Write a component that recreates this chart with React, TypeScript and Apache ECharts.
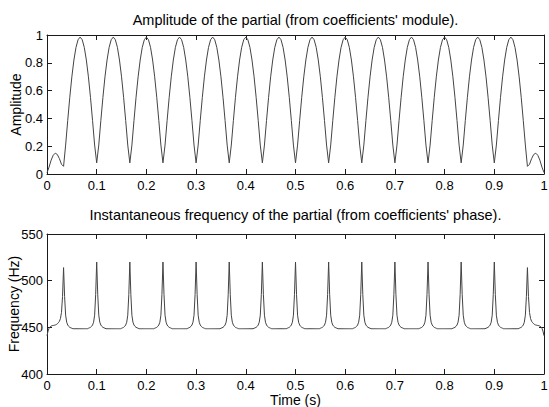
import React, { useEffect, useRef } from "react";
import * as echarts from "echarts";

// Time step of each series (seconds per sample)
const ampStep = 1 / 240;
const freqStep = 1 / 480;

const xTicks = ["0", "0.1", "0.2", "0.3", "0.4", "0.5", "0.6", "0.7", "0.8", "0.9", "1"];

const topTitle = "Amplitude of the partial (from coefficients' module).";
const bottomTitle = "Instantaneous frequency of the partial (from coefficients' phase).";

// Amplitude, one sample every 1/240 s
const amplitude = [
  0.01, 0.05, 0.1, 0.135, 0.15, 0.14, 0.11, 0.07, 0.055,
  0.208, 0.384, 0.551, 0.699, 0.82, 0.911, 0.966, 0.985, 0.966, 0.911, 0.82, 0.699, 0.551, 0.384, 0.208, 0.08,
  0.208, 0.384, 0.551, 0.699, 0.82, 0.911, 0.966, 0.985, 0.966, 0.911, 0.82, 0.699, 0.551, 0.384, 0.208, 0.08,
  0.208, 0.384, 0.551, 0.699, 0.82, 0.911, 0.966, 0.985, 0.966, 0.911, 0.82, 0.699, 0.551, 0.384, 0.208, 0.08,
  0.208, 0.384, 0.551, 0.699, 0.82, 0.911, 0.966, 0.985, 0.966, 0.911, 0.82, 0.699, 0.551, 0.384, 0.208, 0.08,
  0.208, 0.384, 0.551, 0.699, 0.82, 0.911, 0.966, 0.985, 0.966, 0.911, 0.82, 0.699, 0.551, 0.384, 0.208, 0.08,
  0.208, 0.384, 0.551, 0.699, 0.82, 0.911, 0.966, 0.985, 0.966, 0.911, 0.82, 0.699, 0.551, 0.384, 0.208, 0.08,
  0.208, 0.384, 0.551, 0.699, 0.82, 0.911, 0.966, 0.985, 0.966, 0.911, 0.82, 0.699, 0.551, 0.384, 0.208, 0.08,
  0.208, 0.384, 0.551, 0.699, 0.82, 0.911, 0.966, 0.985, 0.966, 0.911, 0.82, 0.699, 0.551, 0.384, 0.208, 0.08,
  0.208, 0.384, 0.551, 0.699, 0.82, 0.911, 0.966, 0.985, 0.966, 0.911, 0.82, 0.699, 0.551, 0.384, 0.208, 0.08,
  0.208, 0.384, 0.551, 0.699, 0.82, 0.911, 0.966, 0.985, 0.966, 0.911, 0.82, 0.699, 0.551, 0.384, 0.208, 0.08,
  0.208, 0.384, 0.551, 0.699, 0.82, 0.911, 0.966, 0.985, 0.966, 0.911, 0.82, 0.699, 0.551, 0.384, 0.208, 0.08,
  0.208, 0.384, 0.551, 0.699, 0.82, 0.911, 0.966, 0.985, 0.966, 0.911, 0.82, 0.699, 0.551, 0.384, 0.208, 0.08,
  0.208, 0.384, 0.551, 0.699, 0.82, 0.911, 0.966, 0.985, 0.966, 0.911, 0.82, 0.699, 0.551, 0.384, 0.208, 0.08,
  0.208, 0.384, 0.551, 0.699, 0.82, 0.911, 0.966, 0.985, 0.966, 0.911, 0.82, 0.699, 0.551, 0.384, 0.208,
  0.055, 0.07, 0.11, 0.14, 0.15, 0.135, 0.1, 0.05, 0.01,
];

// Instantaneous frequency (Hz), one sample every 1/480 s
// (15 spikes, at 0.033 s, 0.1 s, ... 0.967 s)
const frequency = [
  // 0 .. 0.033 s (spike 1)
  441, 446, 449, 450.5, 451.3, 451.8, 452, 452.2, 452.5, 453, 453.8, 455, 456.5, 459.5, 466, 483, 514,
  // spike 2 (0.1 s)
  483, 463, 455.5, 452.5, 451, 450, 449.5, 449, 448.5, 448.5, 448.5, 448.5, 448.5, 448.5, 448.5, 448.5, 448.5, 448.5, 448.5, 448.5, 448.5, 448.5, 448.5, 449, 449.5, 450, 451, 452.5, 455.5, 463, 485, 520,
  // spike 3 (0.167 s)
  485, 463, 455.5, 452.5, 451, 450, 449.5, 449, 448.5, 448.5, 448.5, 448.5, 448.5, 448.5, 448.5, 448.5, 448.5, 448.5, 448.5, 448.5, 448.5, 448.5, 448.5, 449, 449.5, 450, 451, 452.5, 455.5, 463, 485, 520,
  // spike 4 (0.233 s)
  485, 463, 455.5, 452.5, 451, 450, 449.5, 449, 448.5, 448.5, 448.5, 448.5, 448.5, 448.5, 448.5, 448.5, 448.5, 448.5, 448.5, 448.5, 448.5, 448.5, 448.5, 449, 449.5, 450, 451, 452.5, 455.5, 463, 485, 520,
  // spike 5 (0.3 s)
  485, 463, 455.5, 452.5, 451, 450, 449.5, 449, 448.5, 448.5, 448.5, 448.5, 448.5, 448.5, 448.5, 448.5, 448.5, 448.5, 448.5, 448.5, 448.5, 448.5, 448.5, 449, 449.5, 450, 451, 452.5, 455.5, 463, 485, 520,
  // spike 6 (0.367 s)
  485, 463, 455.5, 452.5, 451, 450, 449.5, 449, 448.5, 448.5, 448.5, 448.5, 448.5, 448.5, 448.5, 448.5, 448.5, 448.5, 448.5, 448.5, 448.5, 448.5, 448.5, 449, 449.5, 450, 451, 452.5, 455.5, 463, 485, 520,
  // spike 7 (0.433 s)
  485, 463, 455.5, 452.5, 451, 450, 449.5, 449, 448.5, 448.5, 448.5, 448.5, 448.5, 448.5, 448.5, 448.5, 448.5, 448.5, 448.5, 448.5, 448.5, 448.5, 448.5, 449, 449.5, 450, 451, 452.5, 455.5, 463, 485, 520,
  // spike 8 (0.5 s)
  485, 463, 455.5, 452.5, 451, 450, 449.5, 449, 448.5, 448.5, 448.5, 448.5, 448.5, 448.5, 448.5, 448.5, 448.5, 448.5, 448.5, 448.5, 448.5, 448.5, 448.5, 449, 449.5, 450, 451, 452.5, 455.5, 463, 485, 520,
  // spike 9 (0.567 s)
  485, 463, 455.5, 452.5, 451, 450, 449.5, 449, 448.5, 448.5, 448.5, 448.5, 448.5, 448.5, 448.5, 448.5, 448.5, 448.5, 448.5, 448.5, 448.5, 448.5, 448.5, 449, 449.5, 450, 451, 452.5, 455.5, 463, 485, 520,
  // spike 10 (0.633 s)
  485, 463, 455.5, 452.5, 451, 450, 449.5, 449, 448.5, 448.5, 448.5, 448.5, 448.5, 448.5, 448.5, 448.5, 448.5, 448.5, 448.5, 448.5, 448.5, 448.5, 448.5, 449, 449.5, 450, 451, 452.5, 455.5, 463, 485, 520,
  // spike 11 (0.7 s)
  485, 463, 455.5, 452.5, 451, 450, 449.5, 449, 448.5, 448.5, 448.5, 448.5, 448.5, 448.5, 448.5, 448.5, 448.5, 448.5, 448.5, 448.5, 448.5, 448.5, 448.5, 449, 449.5, 450, 451, 452.5, 455.5, 463, 485, 520,
  // spike 12 (0.767 s)
  485, 463, 455.5, 452.5, 451, 450, 449.5, 449, 448.5, 448.5, 448.5, 448.5, 448.5, 448.5, 448.5, 448.5, 448.5, 448.5, 448.5, 448.5, 448.5, 448.5, 448.5, 449, 449.5, 450, 451, 452.5, 455.5, 463, 485, 520,
  // spike 13 (0.833 s)
  485, 463, 455.5, 452.5, 451, 450, 449.5, 449, 448.5, 448.5, 448.5, 448.5, 448.5, 448.5, 448.5, 448.5, 448.5, 448.5, 448.5, 448.5, 448.5, 448.5, 448.5, 449, 449.5, 450, 451, 452.5, 455.5, 463, 485, 520,
  // spike 14 (0.9 s)
  485, 463, 455.5, 452.5, 451, 450, 449.5, 449, 448.5, 448.5, 448.5, 448.5, 448.5, 448.5, 448.5, 448.5, 448.5, 448.5, 448.5, 448.5, 448.5, 448.5, 448.5, 449, 449.5, 450, 451, 452.5, 455.5, 463, 485, 520,
  // spike 15 (0.967 s)
  485, 463, 455.5, 452.5, 451, 450, 449.5, 449, 448.5, 448.5, 448.5, 448.5, 448.5, 448.5, 448.5, 448.5, 448.5, 448.5, 448.5, 448.5, 448.5, 448.5, 448.5, 449, 449.5, 450, 451, 452.5, 455.5, 463, 483, 514,
  // 0.967 .. 1 s
  483, 466, 459.5, 456.5, 455, 453.8, 453, 452.5, 452.2, 452, 451.8, 451.3, 450.5, 449, 446, 441,
];

const FONT = "'Liberation Sans', Arial, Helvetica, sans-serif";
const AXIS_COLOR = "#1a1a1a";
const LINE_COLOR = "#444";

function axisBase(extra: any) {
  return {
    axisLine: { show: true, onZero: false, lineStyle: { color: AXIS_COLOR, width: 1 } },
    axisTick: { show: true, inside: true, length: 5, lineStyle: { color: AXIS_COLOR, width: 1 } },
    splitLine: { show: false },
    nameMoveOverlap: false,
    ...extra,
  };
}

export default function App() {
  const ref = useRef<HTMLDivElement>(null);

  useEffect(() => {
    document.body.style.margin = "0";
    if (!ref.current) return;
    const chart = echarts.init(ref.current, undefined, { renderer: "svg" });

    const ampData = amplitude.map((v, i) => [i * ampStep, v]);
    const freqData = frequency.map((v, i) => [i * freqStep, v]);

    const xLabel = {
      show: true,
      color: "#000",
      fontSize: 13,
      fontFamily: FONT,
      margin: 5,
      formatter: (v: number) => xTicks[Math.round(v * 10)] ?? "",
    };
    const yLabel = { show: true, color: "#000", fontSize: 13, fontFamily: FONT, margin: 4 };
    const hidden = { show: false };

    const gridLeft = 47;
    const gridWidth = 497;
    const titleStyle = { fontSize: 14.5, fontWeight: "normal", color: "#000", fontFamily: FONT };
    const nameStyle = { fontSize: 14, color: "#000", fontFamily: FONT };

    const option: any = {
      animation: false,
      backgroundColor: "#fff",
      title: [
        { text: topTitle, left: gridLeft + gridWidth / 2, top: 12, textAlign: "center", padding: 0, textStyle: titleStyle },
        { text: bottomTitle, left: gridLeft + gridWidth / 2, top: 207, textAlign: "center", padding: 0, textStyle: titleStyle },
      ],
      grid: [
        { left: gridLeft, top: 35, width: gridWidth, height: 139, containLabel: false, outerBoundsMode: "none" },
        { left: gridLeft, top: 234, width: gridWidth, height: 140, containLabel: false, outerBoundsMode: "none" },
      ],
      xAxis: [
        axisBase({ type: "value", gridIndex: 0, min: 0, max: 1, interval: 0.1, position: "bottom", axisLabel: xLabel }),
        axisBase({ type: "value", gridIndex: 0, min: 0, max: 1, interval: 0.1, position: "top", axisLabel: hidden }),
        axisBase({
          type: "value",
          gridIndex: 1,
          min: 0,
          max: 1,
          interval: 0.1,
          position: "bottom",
          axisLabel: xLabel,
          name: "Time (s)",
          nameLocation: "middle",
          nameGap: 19,
          nameTextStyle: nameStyle,
        }),
        axisBase({ type: "value", gridIndex: 1, min: 0, max: 1, interval: 0.1, position: "top", axisLabel: hidden }),
      ],
      yAxis: [
        axisBase({
          type: "value",
          gridIndex: 0,
          min: 0,
          max: 1,
          interval: 0.2,
          position: "left",
          axisLabel: yLabel,
          name: "Amplitude",
          nameLocation: "middle",
          nameGap: 24,
          nameTextStyle: nameStyle,
        }),
        axisBase({ type: "value", gridIndex: 0, min: 0, max: 1, interval: 0.2, position: "right", axisLabel: hidden }),
        axisBase({
          type: "value",
          gridIndex: 1,
          min: 400,
          max: 550,
          interval: 50,
          position: "left",
          axisLabel: yLabel,
          name: "Frequency (Hz)",
          nameLocation: "middle",
          nameGap: 26,
          nameTextStyle: nameStyle,
        }),
        axisBase({ type: "value", gridIndex: 1, min: 400, max: 550, interval: 50, position: "right", axisLabel: hidden }),
      ],
      series: [
        {
          type: "line",
          xAxisIndex: 0,
          yAxisIndex: 0,
          data: ampData,
          showSymbol: false,
          symbol: "none",
          lineStyle: { color: LINE_COLOR, width: 1 },
          silent: true,
        },
        {
          type: "line",
          xAxisIndex: 2,
          yAxisIndex: 2,
          data: freqData,
          showSymbol: false,
          symbol: "none",
          lineStyle: { color: LINE_COLOR, width: 1 },
          silent: true,
        },
      ],
    };

    chart.setOption(option);
    return () => chart.dispose();
  }, []);

  return <div ref={ref} style={{ width: 549, height: 407 }} />;
}
